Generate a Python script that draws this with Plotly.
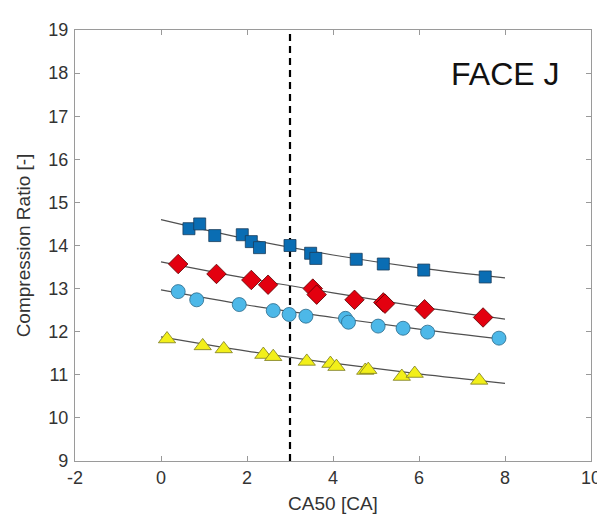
import plotly.graph_objects as go

# ---- data ----
sq_x = [0.65, 0.90, 1.25, 1.89, 2.10, 2.29, 3.00, 3.48, 3.60, 4.54, 5.17, 6.11, 7.54]
sq_y = [14.39, 14.50, 14.23, 14.25, 14.09, 13.95, 14.00, 13.82, 13.70, 13.68, 13.57, 13.43, 13.27]

dm_x = [0.40, 1.29, 2.10, 2.49, 3.53, 3.62, 4.50, 5.17, 5.21, 6.13, 7.49]
dm_y = [13.57, 13.34, 13.20, 13.09, 13.00, 12.86, 12.74, 12.68, 12.65, 12.52, 12.33]

ci_x = [0.40, 0.83, 1.82, 2.61, 2.98, 3.37, 4.29, 4.36, 5.05, 5.63, 6.20, 7.86]
ci_y = [12.93, 12.74, 12.63, 12.49, 12.40, 12.36, 12.31, 12.22, 12.13, 12.08, 11.99, 11.85]

tr_x = [0.14, 0.97, 1.46, 2.38, 2.61, 3.39, 3.94, 4.08, 4.75, 4.82, 5.60, 5.90, 7.40]
tr_y = [11.83, 11.67, 11.60, 11.47, 11.42, 11.31, 11.26, 11.19, 11.10, 11.12, 10.96, 11.03, 10.87]

fit_x = [0, 2, 4, 6, 8]
fit_sq = [14.60, 14.15, 13.78, 13.48, 13.25]
fit_dm = [13.62, 13.24, 12.90, 12.58, 12.29]
fit_ci = [12.97, 12.62, 12.33, 12.06, 11.82]
fit_tr = [11.88, 11.55, 11.27, 11.02, 10.80]

ref_ca50 = 3
x_ticks = [-2, 0, 2, 4, 6, 8, 10]
y_ticks = [9, 10, 11, 12, 13, 14, 15, 16, 17, 18, 19]
label_text = "FACE J"

FONT = "Liberation Sans, Arial, Helvetica, sans-serif"

fig = go.Figure()

# fit curves
for fy in [fit_sq, fit_dm, fit_ci, fit_tr]:
    fig.add_trace(go.Scatter(x=fit_x, y=fy, mode="lines", line=dict(color="#505050", width=1.2, shape="spline"),
                             showlegend=False, hoverinfo="skip"))

# reference dashed line
fig.add_trace(go.Scatter(x=[ref_ca50, ref_ca50], y=[y_ticks[0], y_ticks[-1]], mode="lines",
                         line=dict(color="black", width=2.2, dash="7px,5px"), showlegend=False))

fig.add_trace(go.Scatter(x=sq_x, y=sq_y, mode="markers",
                         marker=dict(symbol="square", size=12, color="#0a6db3",
                                     line=dict(color="#1a3d5c", width=0.8)), showlegend=False))
fig.add_trace(go.Scatter(x=dm_x, y=dm_y, mode="markers",
                         marker=dict(symbol="diamond", size=15, color="#e3000f",
                                     line=dict(color="#5a0000", width=0.8)), showlegend=False))
fig.add_trace(go.Scatter(x=ci_x, y=ci_y, mode="markers",
                         marker=dict(symbol="circle", size=14, color="#4db8e8",
                                     line=dict(color="#2a6a8a", width=0.8)), showlegend=False))
fig.add_trace(go.Scatter(x=tr_x, y=tr_y, mode="markers",
                         marker=dict(symbol="triangle-up", size=15, color="#f2ef1a",
                                     line=dict(color="#7a7a20", width=0.8)), showlegend=False))

fig.add_annotation(x=8.0, y=17.97, text=label_text, showarrow=False,
                   font=dict(family=FONT, size=32, color="#111111"), xanchor="center", yanchor="middle")

axis_common = dict(showgrid=False, zeroline=False, ticks="inside", ticklen=5, tickwidth=1,
                   tickcolor="#999999", showline=True, linecolor="#9a9a9a", linewidth=1.2,
                   mirror="ticks", tickfont=dict(family=FONT, size=18, color="#333333"))

fig.update_xaxes(range=[-2, 10], tickvals=x_ticks, ticktext=[str(v) for v in x_ticks],
                 ticklabelstandoff=0,
                 title=dict(text="CA50 [CA]", font=dict(family=FONT, size=19, color="#333333"), standoff=9),
                 **axis_common)
fig.update_yaxes(range=[9, 19], tickvals=y_ticks, ticktext=[str(v) for v in y_ticks],
                 ticklabelstandoff=2,
                 title=dict(text="Compression Ratio [-]", font=dict(family=FONT, size=19, color="#333333"), standoff=12),
                 **axis_common)

fig.update_layout(width=605, height=516, margin=dict(l=67, r=17, t=15, b=63),
                  plot_bgcolor="white", paper_bgcolor="white", showlegend=False)

fig.write_html("out.html")
